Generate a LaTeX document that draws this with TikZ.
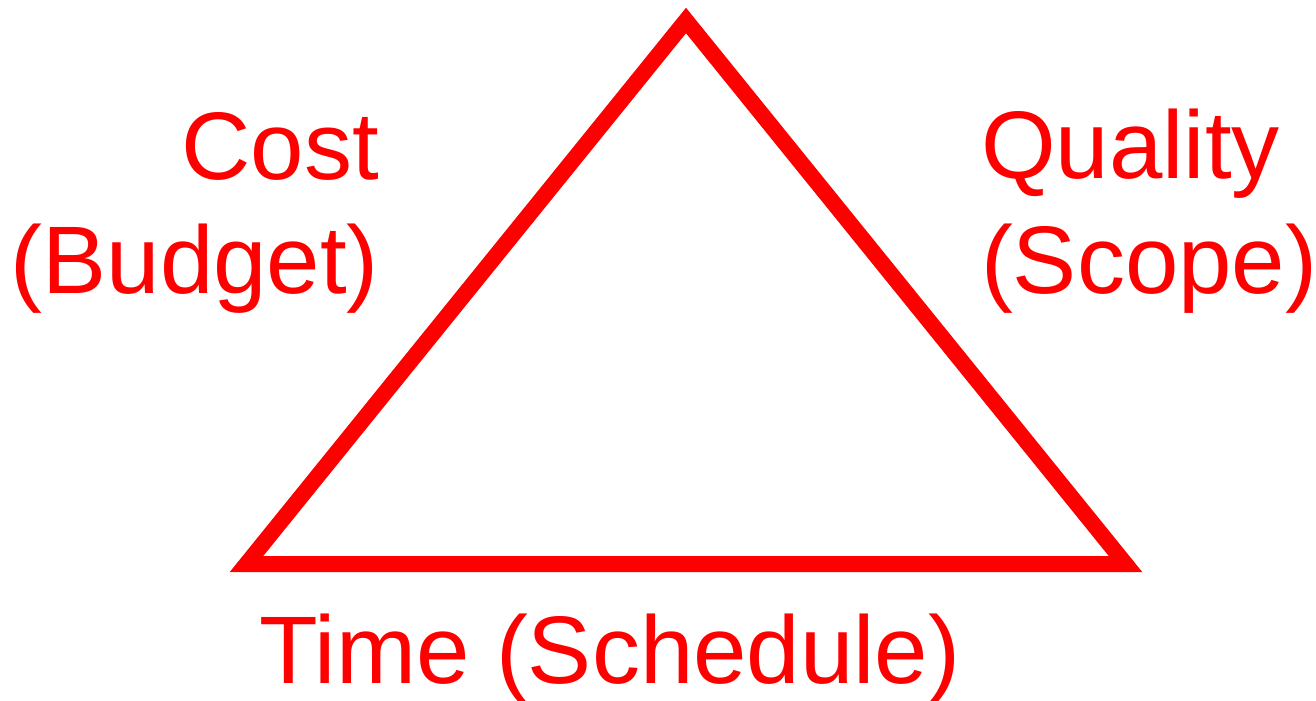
\documentclass[tikz,border=0pt]{standalone}
\usepackage{fontspec}
\setmainfont{Liberation Sans}
\begin{document}
\begin{tikzpicture}[x=0.75pt,y=-0.75pt,
  lbl/.style={text=red,font=\fontsize{72pt}{86pt}\selectfont,inner sep=0pt,outer sep=0pt}]
\useasboundingbox (0,0) rectangle (1316,700);
\coordinate (top) at (686,20.5);
\coordinate (bl) at (246.5,564);
\coordinate (br) at (1125.5,564);
\draw[red,line width=12pt,miter limit=10] (top) -- (bl) -- (br) -- cycle;
\node[lbl,anchor=base east] (cost) at (379,179) {Cost};
\node[lbl,anchor=base east] (budget) at (379,293) {(Budget)};
\node[lbl,anchor=base west] (quality) at (981,178) {Quality};
\node[lbl,anchor=base west] (scope) at (981,293) {(Scope)};
\node[lbl,anchor=base] (time) at (610,683) {Time (Schedule)};
\end{tikzpicture}
\end{document}
